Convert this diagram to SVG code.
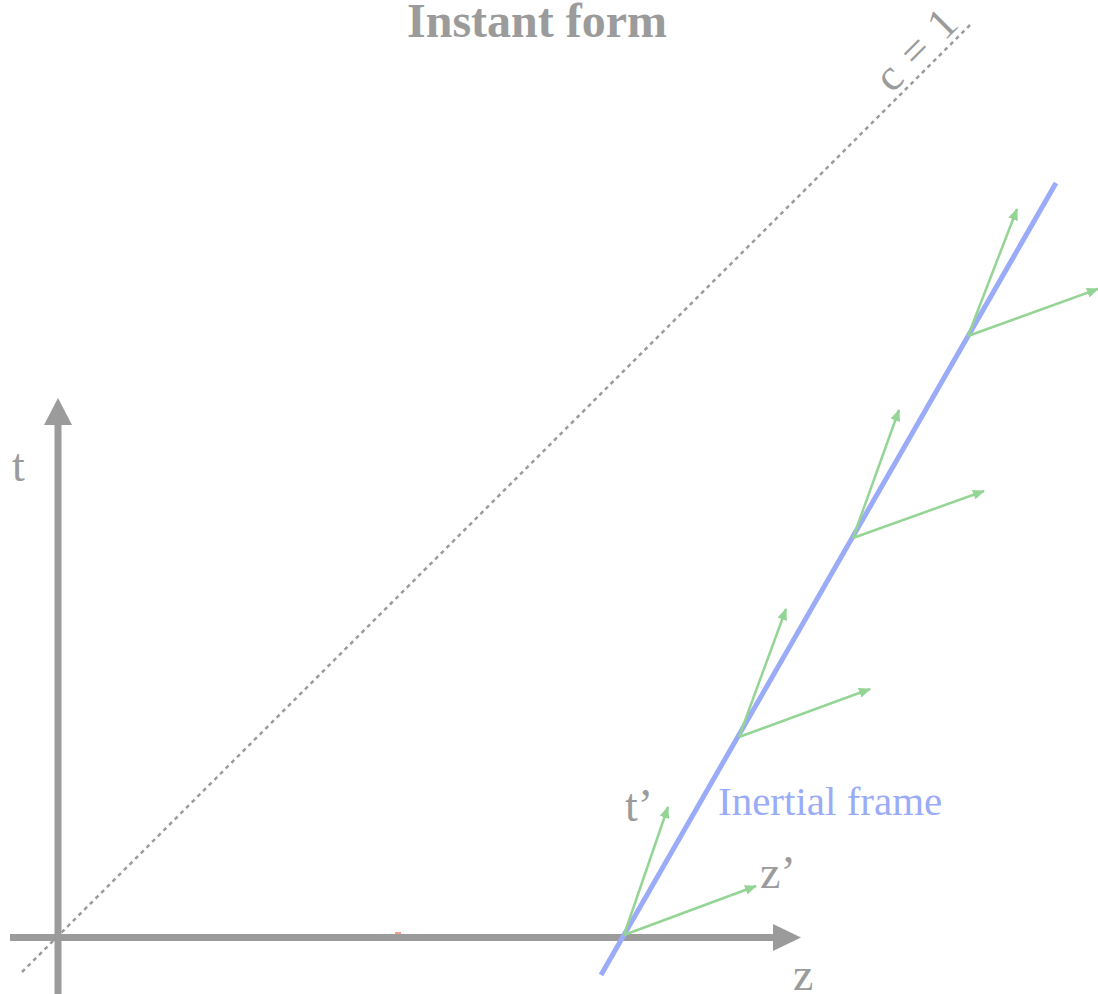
<svg xmlns="http://www.w3.org/2000/svg" width="1098" height="994" viewBox="0 0 1098 994">
<defs>
<style>
.lbl{font-family:"Liberation Serif","Times New Roman",serif;fill:#9b9b9b}
.axis{stroke:#9b9b9b;stroke-width:7;fill:none}
.vec{stroke:#94d494;stroke-width:2.5;fill:none;marker-end:url(#gh)}
</style>
<marker id="gh" viewBox="0 0 12 10" refX="11" refY="5" markerWidth="12" markerHeight="10" markerUnits="userSpaceOnUse" orient="auto">
<path d="M0,0 L12,5 L0,10 Z" fill="#94d494"/>
</marker>
</defs>
<rect width="1098" height="994" fill="#ffffff"/>
<text class="lbl" x="537" y="37" font-size="48" font-weight="bold" text-anchor="middle">Instant form</text>
<g id="light-cone">
<line x1="22" y1="972" x2="970" y2="25" stroke="#9b9b9b" stroke-width="2.5" stroke-dasharray="4 4"/>
<text class="lbl" font-size="44" word-spacing="4" transform="translate(892,94) rotate(-45)">c = 1</text>
</g>
<g id="axes">
<line class="axis" x1="58" y1="994" x2="58" y2="422"/>
<polygon points="44,425 72,425 58,398" fill="#9b9b9b"/>
<line class="axis" x1="10" y1="937.5" x2="776" y2="937.5"/>
<polygon points="773,924 773,951 801,937.5" fill="#9b9b9b"/>
<text class="lbl" x="12" y="481" font-size="46">t</text>
<text class="lbl" x="793" y="990" font-size="46">z</text>
</g>
<rect x="395" y="932" width="6" height="2" fill="#f4a090"/>
<g id="worldline">
<line x1="601" y1="975" x2="1056" y2="183" stroke="#9aabf7" stroke-width="5"/>
<text x="718" y="815" font-size="41" font-family="'Liberation Serif','Times New Roman',serif" fill="#9aabf7">Inertial frame</text>
</g>
<g id="connectors">
<line class="vec" x1="624" y1="935" x2="668" y2="807"/>
<line class="vec" x1="624" y1="935" x2="756" y2="886"/>
<line class="vec" x1="739" y1="737" x2="786" y2="609"/>
<line class="vec" x1="739" y1="737" x2="870" y2="689"/>
<line class="vec" x1="853" y1="538" x2="899" y2="410"/>
<line class="vec" x1="853" y1="538" x2="984" y2="491"/>
<line class="vec" x1="968" y1="336" x2="1017" y2="209"/>
<line class="vec" x1="968" y1="336" x2="1098" y2="289"/>
</g>
<g id="frame-labels">
<text class="lbl" x="625" y="821" font-size="46">t’</text>
<text class="lbl" x="760" y="888" font-size="46">z’</text>
</g>
</svg>
